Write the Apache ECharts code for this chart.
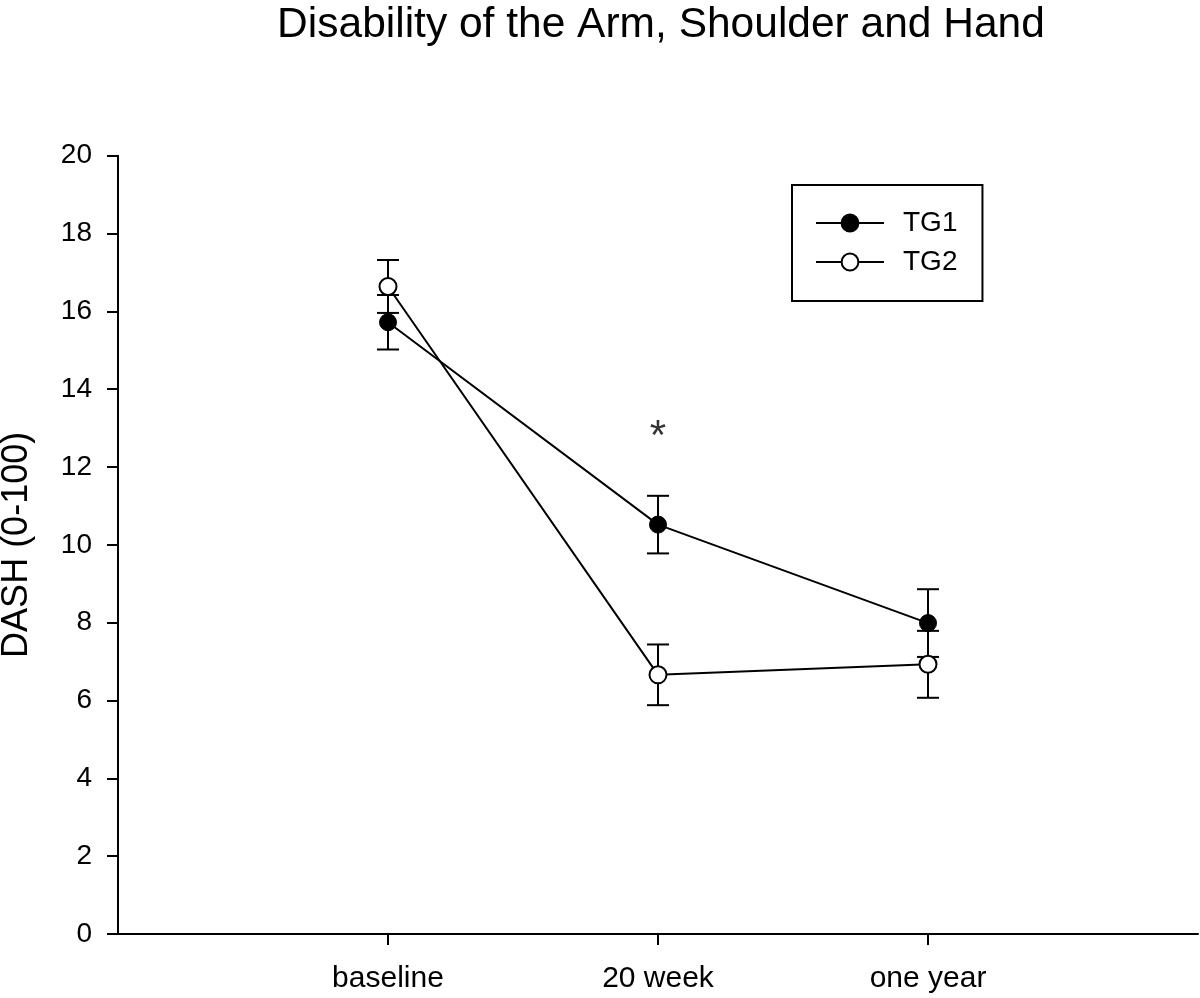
<!DOCTYPE html>
<html>
<head>
<meta charset="utf-8">
<script src="https://cdn.jsdelivr.net/npm/echarts@6/dist/echarts.min.js"></script>
<style>
  html, body { margin: 0; padding: 0; background: #fff; }
  #chart { width: 1200px; height: 998px; }
</style>
</head>
<body>
<div id="chart"></div>
<script>
// ---- Data ----
const categories = ['baseline', '20 week', 'one year'];
const xPositions = [1, 2, 3];
const tg1Mean = [15.72, 10.52, 7.99];
const tg1Err  = [0.70, 0.74, 0.87];
const tg2Mean = [16.64, 6.66, 6.93];
const tg2Err  = [0.68, 0.78, 0.86];
const yTicks = [0, 2, 4, 6, 8, 10, 12, 14, 16, 18, 20];
const annotation = { x: 2, y: 12.75, text: '*' };

// ---- Build series data ----
const tg1Data = xPositions.map((x, i) => [x, tg1Mean[i]]);
const tg2Data = xPositions.map((x, i) => [x, tg2Mean[i]]);
const tg1ErrData = xPositions.map((x, i) => [x, tg1Mean[i] - tg1Err[i], tg1Mean[i] + tg1Err[i]]);
const tg2ErrData = xPositions.map((x, i) => [x, tg2Mean[i] - tg2Err[i], tg2Mean[i] + tg2Err[i]]);

const FONT = 'Liberation Sans, Arial, Helvetica, sans-serif';

function errorBar(params, api) {
  const x = api.value(0), lo = api.value(1), hi = api.value(2);
  const pHi = api.coord([x, hi]);
  const pLo = api.coord([x, lo]);
  const hw = 11;
  const st = { stroke: '#000', lineWidth: 2 };
  return {
    type: 'group',
    children: [
      { type: 'line', shape: { x1: pHi[0], y1: pHi[1], x2: pLo[0], y2: pLo[1] }, style: st },
      { type: 'line', shape: { x1: pHi[0] - hw, y1: pHi[1], x2: pHi[0] + hw, y2: pHi[1] }, style: st },
      { type: 'line', shape: { x1: pLo[0] - hw, y1: pLo[1], x2: pLo[0] + hw, y2: pLo[1] }, style: st }
    ]
  };
}

const chart = echarts.init(document.getElementById('chart'), null, { renderer: 'canvas' });
chart.setOption({
  animation: false,
  backgroundColor: '#fff',
  title: {
    text: 'Disability of the Arm, Shoulder and Hand',
    left: 661,
    textAlign: 'center',
    top: 4,
    padding: 0,
    textStyle: { fontFamily: FONT, fontSize: 42.5, fontWeight: 'normal', color: '#000' }
  },
  legend: {
    data: ['TG1', 'TG2'],
    orient: 'vertical',
    left: 792,
    top: 185,
    padding: [24, 25, 25, 23],
    itemWidth: 68,
    itemHeight: 21,
    itemGap: 11,
    borderColor: '#000',
    borderWidth: 2,
    textStyle: { fontFamily: FONT, fontSize: 28, color: '#000', padding: [0, 0, 0, 14] }
  },
  grid: { left: 118, right: 2, top: 155.7, bottom: 64, containLabel: false, outerBoundsMode: 'none' },
  xAxis: {
    type: 'value',
    min: 0,
    max: 4,
    interval: 1,
    splitLine: { show: false },
    axisLine: { show: true, lineStyle: { color: '#000', width: 2 } },
    axisTick: { show: true, length: 11, lineStyle: { color: '#000', width: 2 }, customValues: xPositions },
    axisLabel: {
      customValues: xPositions,
      formatter: v => categories[xPositions.indexOf(v)] || '',
      fontFamily: FONT, fontSize: 30, color: '#000', margin: 30
    }
  },
  yAxis: {
    type: 'value',
    min: 0,
    max: 20,
    interval: 2,
    name: 'DASH (0-100)',
    nameLocation: 'middle',
    nameRotate: 90,
    nameGap: 83,
    nameTextStyle: { fontFamily: FONT, fontSize: 36, color: '#000' },
    splitLine: { show: false },
    axisLine: { show: true, lineStyle: { color: '#000', width: 2 } },
    axisTick: { show: true, length: 11, inside: false, lineStyle: { color: '#000', width: 2 } },
    axisLabel: {
      customValues: yTicks,
      fontFamily: FONT, fontSize: 28, color: '#000', margin: 26
    }
  },
  series: [
    {
      type: 'custom',
      name: 'TG1 err',
      renderItem: errorBar,
      data: tg1ErrData,
      encode: { x: 0, y: [1, 2] },
      z: 1,
      silent: true
    },
    {
      type: 'custom',
      name: 'TG2 err',
      renderItem: errorBar,
      data: tg2ErrData,
      encode: { x: 0, y: [1, 2] },
      z: 1,
      silent: true
    },
    {
      type: 'line',
      name: 'TG1',
      data: tg1Data,
      symbol: 'circle',
      symbolSize: 17,
      showAllSymbol: true,
      lineStyle: { color: '#000', width: 2 },
      itemStyle: { color: '#000', borderColor: '#000', borderWidth: 1 },
      z: 3
    },
    {
      type: 'line',
      name: 'TG2',
      data: tg2Data,
      symbol: 'circle',
      symbolSize: 17,
      showAllSymbol: true,
      lineStyle: { color: '#000', width: 2 },
      itemStyle: { color: '#fff', borderColor: '#000', borderWidth: 2 },
      z: 4
    },
    {
      type: 'scatter',
      name: 'annotation',
      data: [[annotation.x, annotation.y]],
      symbolSize: 1,
      itemStyle: { color: 'rgba(0,0,0,0)' },
      label: {
        show: true,
        position: 'inside',
        formatter: annotation.text,
        fontFamily: FONT,
        fontSize: 42,
        color: '#000'
      },
      silent: true,
      z: 5
    }
  ]
});
</script>
</body>
</html>
